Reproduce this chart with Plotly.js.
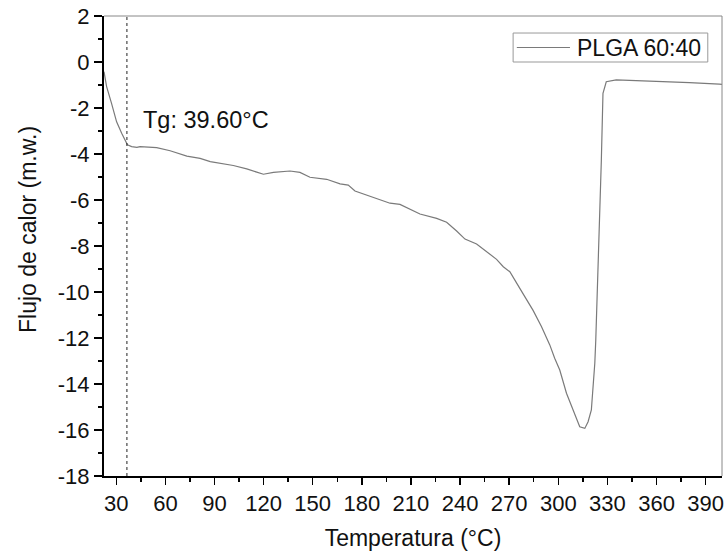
<!DOCTYPE html>
<html>
<head>
<meta charset="utf-8">
<script src="https://cdn.plot.ly/plotly-3.0.1.min.js"></script>
<style>html,body{margin:0;padding:0;background:#fff;}#chart{width:726px;height:560px;}</style>
</head>
<body>
<div id="chart"></div>
<script>
var seriesName = "PLGA 60:40";
var temperature = [22.5, 24.1, 27.1, 30.2, 33.3, 35.9, 36.8, 39.4, 42.6, 44.5, 54.7, 62.9, 64.9, 73.1, 81.2, 87.4, 101.5, 109.7, 119.9, 126, 136.1, 142.2, 148.3, 158.5, 166.7, 171.7, 175.8, 185, 197.2, 203.3, 209.4, 215.5, 225.7, 231.8, 237.9, 243, 250.1, 256.2, 262.3, 266.4, 270.4, 276.5, 284.6, 289.7, 294.8, 297.8, 300.9, 305, 309, 313.1, 316.2, 318.2, 320.2, 321.2, 322.3, 322.9, 323.7, 324.9, 326.3, 327.3, 329.3, 335.4, 359.8, 380.1, 398.4, 400];
var heatFlow = [-0.42, -1.07, -1.8, -2.6, -3.1, -3.47, -3.6, -3.68, -3.71, -3.68, -3.72, -3.86, -3.9, -4.09, -4.19, -4.33, -4.5, -4.65, -4.88, -4.8, -4.74, -4.8, -5.01, -5.1, -5.3, -5.35, -5.61, -5.83, -6.14, -6.19, -6.41, -6.61, -6.8, -6.97, -7.35, -7.7, -7.91, -8.25, -8.58, -8.9, -9.12, -9.84, -10.8, -11.5, -12.3, -12.88, -13.39, -14.4, -15.13, -15.86, -15.93, -15.64, -15.13, -14.26, -13.1, -12.09, -10.35, -8.17, -4.26, -1.36, -0.86, -0.78, -0.83, -0.9, -0.96, -0.97];
var tgLineX = 36.5;
var tgLabel = "Tg: 39.60°C";
var xTitle = "Temperatura (°C)";
var yTitle = "Flujo de calor (m.w.)";
var xTicks = [30, 60, 90, 120, 150, 180, 210, 240, 270, 300, 330, 360, 390];
var xTickText = ["30", "60", "90", "120", "150", "180", "210", "240", "270", "300", "330", "360", "390"];
var yTicks = [2, 0, -2, -4, -6, -8, -10, -12, -14, -16, -18];
var yTickText = ["2", "0", "-2", "-4", "-6", "-8", "-10", "-12", "-14", "-16", "-18"];
var xRange = [22.5, 400];
var yRange = [-18, 2];

var font = "Liberation Sans, Arial, Helvetica, sans-serif";
var lineColor = "#7a7a7a";

var trace = {
  x: temperature, y: heatFlow, type: "scatter", mode: "lines",
  name: seriesName, showlegend: false,
  line: {color: lineColor, width: 1.2}
};

var layout = {
  width: 726, height: 560,
  margin: {l: 104, r: 4, t: 16, b: 84},
  paper_bgcolor: "#fff", plot_bgcolor: "#fff",
  font: {family: font, color: "#111"},
  showlegend: false,
  xaxis: {
    range: xRange, tickmode: "array", tickvals: xTicks, ticktext: xTickText,
    ticks: "outside", ticklen: 7, tickwidth: 1.5, tickcolor: "#000",
    showline: true, linecolor: "#000", linewidth: 2,
    showgrid: false, zeroline: false,
    tickfont: {size: 22, family: font, color: "#111"},
    minor: {dtick: 15, tick0: 0, ticks: "outside", ticklen: 4, tickwidth: 1.5, tickcolor: "#000", showgrid: false},
    title: {text: xTitle, font: {size: 23, family: font, color: "#111"}, standoff: 14}
  },
  yaxis: {
    range: yRange, tickmode: "array", tickvals: yTicks, ticktext: yTickText,
    ticks: "outside", ticklen: 8, tickwidth: 1.5, tickcolor: "#000",
    showline: true, linecolor: "#000", linewidth: 2,
    showgrid: false, zeroline: false,
    tickfont: {size: 22, family: font, color: "#111"},
    minor: {dtick: 1, tick0: 0, ticks: "outside", ticklen: 4, tickwidth: 1.5, tickcolor: "#000", showgrid: false}
  },
  shapes: [
    {type: "line", xref: "paper", yref: "paper", x0: 0, x1: 1, y0: 1, y1: 1, line: {color: "#888", width: 1}},
    {type: "line", xref: "paper", yref: "paper", x0: 1, x1: 1, y0: 0, y1: 1, line: {color: "#888", width: 1}},
    {type: "line", xref: "x", yref: "paper", x0: tgLineX, x1: tgLineX, y0: 0, y1: 1, line: {color: "#222", width: 1, dash: "dot"}},
    {type: "rect", xref: "paper", yref: "paper", x0: 0.662, x1: 0.977, y0: 0.900, y1: 0.963, line: {color: "#999", width: 1}, fillcolor: "#fff"},
    {type: "line", xref: "paper", yref: "paper", x0: 0.668, x1: 0.754, y0: 0.9315, y1: 0.9315, line: {color: lineColor, width: 1.2}}
  ],
  annotations: [
    {xref: "x", yref: "y", x: 45, y: -2.5, xanchor: "left", yanchor: "middle", text: tgLabel, showarrow: false,
     font: {size: 23.5, family: font, color: "#111"}},
    {xref: "paper", yref: "paper", x: 0.762, y: 0.9315, xanchor: "left", yanchor: "middle", text: seriesName, showarrow: false,
     font: {size: 23, family: font, color: "#111"}},
    {xref: "paper", yref: "paper", x: -0.123, y: 0.537, xanchor: "center", yanchor: "middle", textangle: -90, text: yTitle, showarrow: false,
     font: {size: 23, family: font, color: "#111"}}
  ]
};

Plotly.newPlot("chart", [trace], layout, {displayModeBar: false, staticPlot: true});
</script>
</body>
</html>
